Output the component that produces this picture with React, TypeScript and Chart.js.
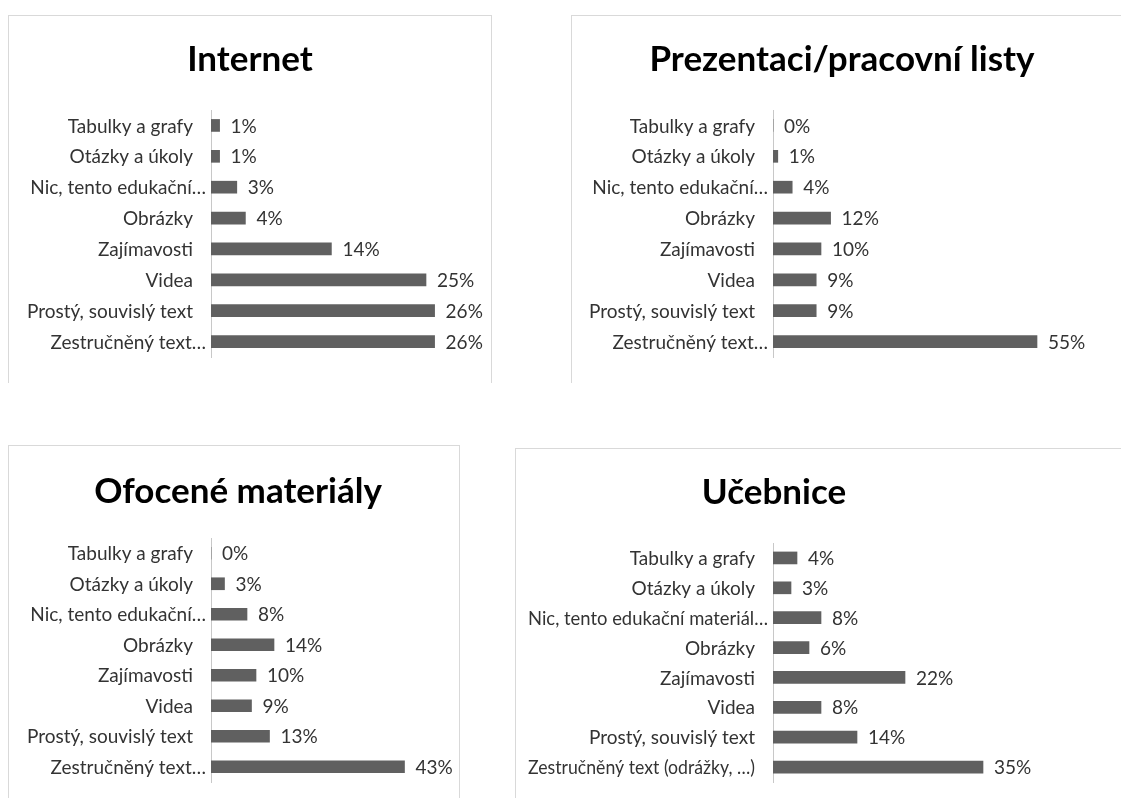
import React, { useEffect, useRef } from "react";
import { Chart, registerables } from "chart.js";

Chart.register(...registerables);

// ---- data ----
const CATEGORIES_SHORT = [
  "Tabulky a grafy",
  "Otázky a úkoly",
  "Nic, tento edukační…",
  "Obrázky",
  "Zajímavosti",
  "Videa",
  "Prostý, souvislý text",
  "Zestručněný text…",
];
const CATEGORIES_LONG = [
  "Tabulky a grafy",
  "Otázky a úkoly",
  "Nic, tento edukační materiál…",
  "Obrázky",
  "Zajímavosti",
  "Videa",
  "Prostý, souvislý text",
  "Zestručněný text (odrážky, …)",
];
const INTERNET = [1, 1, 3, 4, 14, 25, 26, 26];
const PREZENTACI = [0, 1, 4, 12, 10, 9, 9, 55];
const OFOCENE = [0, 3, 8, 14, 10, 9, 13, 43];
const UCEBNICE = [4, 3, 8, 6, 22, 8, 14, 35];

const TITLES = ["Internet", "Prezentaci/pracovní listy", "Ofocené materiály", "Učebnice"];

// ---- layout (page pixel coordinates) ----
type Layout = {
  boxLeft: number; boxTop: number; boxRight: number | null; boxBottom: number | null;
  canvasW: number; canvasH: number;
  axisX: number; areaTop: number; areaBottom: number;
  titleCx: number; titleCy: number; pxPerUnit: number;
};

const LAYOUTS: Layout[] = [
  { boxLeft: 8, boxTop: 15, boxRight: 492, boxBottom: null, canvasW: 482, canvasH: 366,
    axisX: 211, areaTop: 110, areaBottom: 357, titleCx: 250, titleCy: 60, pxPerUnit: 8.6 },
  { boxLeft: 571, boxTop: 15, boxRight: null, boxBottom: null, canvasW: 549, canvasH: 366,
    axisX: 773, areaTop: 110, areaBottom: 357, titleCx: 842, titleCy: 60, pxPerUnit: 4.8 },
  { boxLeft: 8, boxTop: 445, boxRight: 460, boxBottom: null, canvasW: 450, canvasH: 352,
    axisX: 211, areaTop: 538, areaBottom: 782, titleCx: 238, titleCy: 492, pxPerUnit: 4.5 },
  { boxLeft: 515, boxTop: 448, boxRight: null, boxBottom: null, canvasW: 605, canvasH: 349,
    axisX: 773, areaTop: 543, areaBottom: 782, titleCx: 774, titleCy: 493, pxPerUnit: 6.0 },
];

const TITLE_SIZE = 35;
const TITLE_LH = 1.2;
const LABEL_SIZE = 19;
const TEXT_COLOR = "#333333";
const BAR_COLOR = "#606060";
const AXIS_COLOR = "#c8c8c8";
const BORDER_COLOR = "#d9d9d9";
const LABEL_GAP = 18;
const LABEL_GAP_TRUNCATED = 5;
const LABEL_LEFT_MARGIN = 12;

// category labels, drawn at the category scale's tick positions
const categoryLabels = {
  id: "categoryLabels",
  afterDatasetsDraw(chart: any) {
    const ctx = chart.ctx;
    const scale = chart.scales.y;
    const labels: string[] = chart.data.labels;
    ctx.save();
    ctx.font = `${LABEL_SIZE}px Lato`;
    ctx.fillStyle = TEXT_COLOR;
    ctx.textAlign = "right";
    ctx.textBaseline = "middle";
    labels.forEach((lab, i) => {
      const gap = lab.endsWith("…") ? LABEL_GAP_TRUNCATED : LABEL_GAP;
      const x = scale.right - gap;
      ctx.fillText(lab, x, scale.getPixelForTick(i) + 1, x - LABEL_LEFT_MARGIN);
    });
    ctx.restore();
  },
};

// value labels after each bar
const valueLabels = {
  id: "valueLabels",
  afterDatasetsDraw(chart: any) {
    const ctx = chart.ctx;
    const meta = chart.getDatasetMeta(0);
    const data = chart.data.datasets[0].data;
    ctx.save();
    ctx.font = `${LABEL_SIZE}px Lato`;
    ctx.fillStyle = TEXT_COLOR;
    ctx.textAlign = "left";
    ctx.textBaseline = "middle";
    meta.data.forEach((bar: any, i: number) => {
      ctx.fillText(`${data[i]}%`, bar.x + 11, bar.y + 1);
    });
    ctx.restore();
  },
};

function Panel({ title, labels, values, layout }: { title: string; labels: string[]; values: number[]; layout: Layout }) {
  const ref = useRef<HTMLCanvasElement>(null);
  const canvasLeft = layout.boxLeft + 1;
  const canvasTop = layout.boxTop + 1;

  useEffect(() => {
    const W = layout.canvasW;
    const H = layout.canvasH;
    const cxOff = layout.titleCx - canvasLeft;
    let padL = 0;
    let padR = 0;
    if (2 * cxOff > W) padL = 2 * cxOff - W;
    else padR = W - 2 * cxOff;
    const cyOff = layout.titleCy - canvasTop;
    const titleBox = TITLE_SIZE * TITLE_LH;
    const titlePadTop = cyOff - titleBox / 2;
    const titlePadBottom = layout.areaTop - canvasTop - (cyOff + titleBox / 2);
    const padBottom = H - (layout.areaBottom - canvasTop);
    const yWidth = layout.axisX - canvasLeft - padL;
    const areaW = W - padL - padR - yWidth;
    const xMax = areaW / layout.pxPerUnit;

    const chart = new Chart(ref.current!, {
      type: "bar",
      data: {
        labels,
        datasets: [
          {
            data: values,
            backgroundColor: BAR_COLOR,
            barThickness: 12,
            borderWidth: 0,
          },
        ],
      },
      plugins: [categoryLabels, valueLabels],
      options: {
        indexAxis: "y",
        responsive: false,
        animation: false,
        layout: { padding: { left: padL, right: padR, top: 0, bottom: padBottom } },
        plugins: {
          legend: { display: false },
          tooltip: { enabled: false },
          title: {
            display: true,
            text: title,
            color: "#000000",
            font: { family: "Lato", size: TITLE_SIZE, weight: "bold", lineHeight: TITLE_LH },
            padding: { top: titlePadTop, bottom: titlePadBottom },
          },
        },
        scales: {
          x: { display: false, min: 0, max: xMax },
          y: {
            type: "category",
            offset: true,
            grid: { display: false, drawTicks: false },
            border: { display: true, color: AXIS_COLOR, width: 1 },
            ticks: { display: false, autoSkip: false },
            afterFit: (scale: any) => {
              scale.width = yWidth;
            },
          },
        },
      } as any,
    });
    return () => chart.destroy();
  }, []);

  return (
    <>
      <div
        style={{
          position: "absolute",
          left: layout.boxLeft,
          top: layout.boxTop,
          width: (layout.boxRight ?? 1200) - layout.boxLeft,
          height: (layout.boxBottom ?? 900) - layout.boxTop,
          borderLeft: `1px solid ${BORDER_COLOR}`,
          borderTop: `1px solid ${BORDER_COLOR}`,
          borderRight: layout.boxRight !== null ? `1px solid ${BORDER_COLOR}` : "none",
          boxSizing: "border-box",
        }}
      />
      <canvas
        ref={ref}
        width={layout.canvasW}
        height={layout.canvasH}
        style={{ position: "absolute", left: canvasLeft, top: canvasTop, display: "block" }}
      />
    </>
  );
}

export default function App() {
  return (
    <div
      style={{
        position: "absolute",
        left: 0,
        top: 0,
        width: 1121,
        height: 798,
        overflow: "hidden",
        background: "#ffffff",
      }}
    >
      <div style={{ position: "absolute", left: 0, top: 0, width: 1121, height: 383, overflow: "hidden" }}>
        <Panel title={TITLES[0]} labels={CATEGORIES_SHORT} values={INTERNET} layout={LAYOUTS[0]} />
        <Panel title={TITLES[1]} labels={CATEGORIES_SHORT} values={PREZENTACI} layout={LAYOUTS[1]} />
      </div>
      <Panel title={TITLES[2]} labels={CATEGORIES_SHORT} values={OFOCENE} layout={LAYOUTS[2]} />
      <Panel title={TITLES[3]} labels={CATEGORIES_LONG} values={UCEBNICE} layout={LAYOUTS[3]} />
    </div>
  );
}
